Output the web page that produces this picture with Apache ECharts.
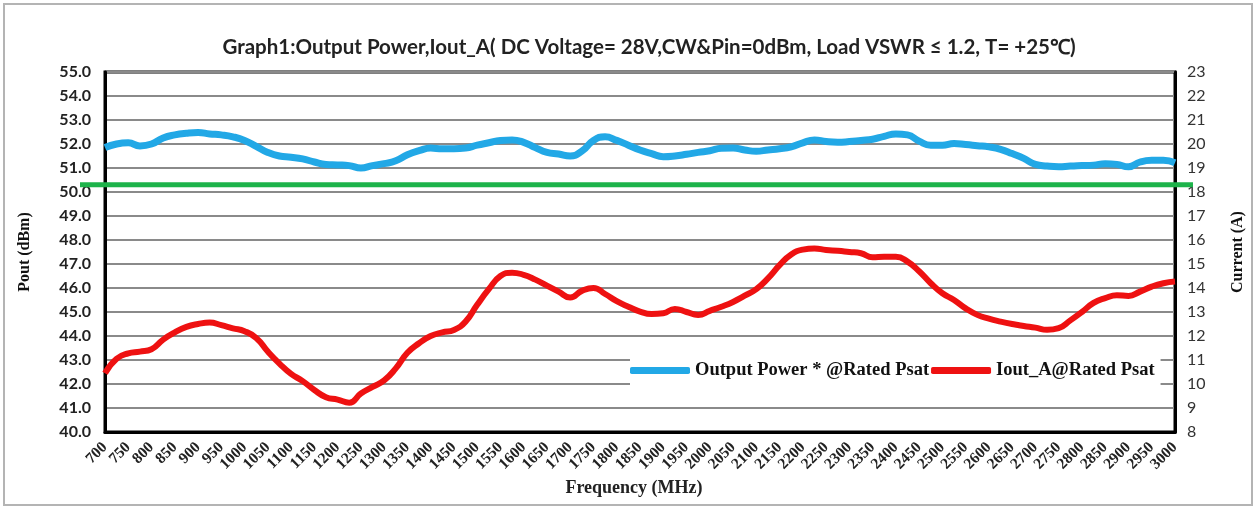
<!DOCTYPE html>
<html>
<head>
<meta charset="utf-8">
<script src="https://cdn.jsdelivr.net/npm/echarts@6/dist/echarts.min.js"></script>
<style>
  body { margin: 0; background: #fff; }
  #chart { position: absolute; left: 0; top: 0; width: 1255px; height: 507px; }
  #frame { position: absolute; left: 3px; top: 3px; width: 1246px; height: 499px; border: 2px solid #b4b4b4; pointer-events: none; }
</style>
</head>
<body>
<div id="chart"></div>
<div id="frame"></div>
<script>
// frequency points (MHz), 25 MHz steps
const freq = []
for (let f = 700; f <= 3000; f += 25) freq.push(f)

// Output Power (dBm), left axis
const pout = [
  51.85, 52.0, 52.05, 51.92, 52.0, 52.25, 52.38, 52.45, 52.48, 52.42,
  52.38, 52.3, 52.15, 51.9, 51.65, 51.5, 51.45, 51.38, 51.25, 51.15,
  51.13, 51.1, 51.0, 51.1, 51.18, 51.3, 51.55, 51.72, 51.83, 51.8,
  51.8, 51.83, 51.95, 52.05, 52.15, 52.17, 52.07, 51.85, 51.65, 51.58,
  51.5, 51.7, 52.15, 52.3, 52.15, 51.95, 51.75, 51.6, 51.47, 51.5,
  51.57, 51.65, 51.72, 51.82, 51.83, 51.75, 51.7, 51.75, 51.8, 51.88,
  52.05, 52.17, 52.1, 52.07, 52.1, 52.15, 52.2, 52.32, 52.42, 52.38,
  52.12, 51.95, 51.95, 52.02, 51.98, 51.93, 51.88, 51.78, 51.6, 51.4,
  51.15, 51.08, 51.05, 51.08, 51.1, 51.12, 51.18, 51.15, 51.05, 51.25,
  51.32, 51.32, 51.22
]

// Iout (A), right axis
const iout = [
  10.45, 11.05, 11.28, 11.35, 11.45, 11.85, 12.15, 12.38, 12.5, 12.56,
  12.45, 12.32, 12.2, 11.92, 11.35, 10.85, 10.42, 10.12, 9.75, 9.45,
  9.35, 9.22, 9.6, 9.88, 10.15, 10.65, 11.3, 11.7, 12.0, 12.15,
  12.25, 12.6, 13.3, 13.95, 14.5, 14.64, 14.55, 14.35, 14.1, 13.85,
  13.6, 13.88, 14.0, 13.75, 13.45, 13.22, 13.02, 12.92, 12.95, 13.13,
  13.0, 12.88, 13.05, 13.22, 13.42, 13.68, 13.95, 14.4, 14.95, 15.4,
  15.6, 15.65, 15.58, 15.55, 15.5, 15.45, 15.28, 15.3, 15.3, 15.1,
  14.7, 14.2, 13.78, 13.5, 13.15, 12.88, 12.72, 12.6, 12.5, 12.42,
  12.35, 12.26, 12.33, 12.65, 13.0, 13.38, 13.58, 13.7, 13.67, 13.85,
  14.06, 14.2, 14.27
]

// green reference level (dBm), drawn a bit wider than the plot box
const limitLevel = 50.3

const chart = echarts.init(document.getElementById('chart'))
const serif = 'Liberation Serif'
const sans = 'Lato'

chart.setOption({
  animation: false,
  backgroundColor: '#fff',
  title: {
    text: 'Graph1:Output Power,Iout_A( DC Voltage= 28V,CW&Pin=0dBm, Load VSWR \u2264 1.2, T= +25\u2103)',
    left: 644,
    textAlign: 'center',
    top: 32,
    textStyle: { fontFamily: sans, fontWeight: 'bold', fontSize: 20.5, color: '#222' }
  },
  grid: [
    { left: 105, right: 80, top: 72, bottom: 75, show: true, borderColor: '#000', borderWidth: 3 },
    // wider box only for the green level line
    { left: 80, right: 62, top: 72, bottom: 75 }
  ],
  legend: {
    data: ['Output Power * @Rated Psat', 'Iout_A@Rated Psat'],
    icon: 'roundRect',
    itemWidth: 60,
    itemHeight: 7,
    itemGap: 2,
    left: 630,
    top: 347,
    padding: [14, 6, 14, 0],
    backgroundColor: '#fff',
    textStyle: { fontFamily: serif, fontWeight: 'bold', fontSize: 18.5, color: '#111' }
  },
  xAxis: [
    {
      type: 'value',
      gridIndex: 0,
      min: 700,
      max: 3000,
      interval: 50,
      name: 'Frequency (MHz)',
      nameLocation: 'middle',
      nameGap: 41,
      nameTextStyle: { fontFamily: serif, fontWeight: 'bold', fontSize: 18, color: '#222', padding: [0, 12, 0, 0] },
      axisLine: { lineStyle: { color: '#000', width: 3 } },
      axisTick: { show: false },
      splitLine: { show: false },
      axisLabel: {
        rotate: 45, margin: 13,
        formatter: v => String(v),
        fontFamily: serif, fontWeight: 'bold', fontSize: 15.5, color: '#222'
      }
    },
    { type: 'value', gridIndex: 1, min: 0, max: 1, show: false }
  ],
  yAxis: [
    {
      type: 'value',
      gridIndex: 0,
      min: 40,
      max: 55,
      interval: 1,
      name: 'Pout (dBm)',
      nameLocation: 'middle',
      nameGap: 72,
      nameTextStyle: { fontFamily: serif, fontWeight: 'bold', fontSize: 16, color: '#111' },
      axisLine: { show: true, lineStyle: { color: '#000', width: 3 } },
      axisTick: { show: false },
      splitLine: { lineStyle: { color: '#8a8a8a', width: 2 } },
      axisLabel: {
        margin: 14,
        formatter: v => v.toFixed(1),
        fontFamily: sans, fontWeight: 'bold', fontSize: 16, color: '#222'
      }
    },
    {
      type: 'value',
      gridIndex: 0,
      min: 8,
      max: 23,
      interval: 1,
      position: 'right',
      name: 'Current (A)',
      nameLocation: 'middle',
      nameGap: 55,
      nameRotate: 90,
      nameTextStyle: { fontFamily: serif, fontWeight: 'bold', fontSize: 16, color: '#111' },
      axisLine: { show: true, lineStyle: { color: '#000', width: 3 } },
      axisTick: { show: false },
      splitLine: { show: false },
      axisLabel: { margin: 12, fontFamily: sans, fontSize: 16, color: '#333' }
    },
    { type: 'value', gridIndex: 1, min: 40, max: 55, show: false }
  ],
  series: [
    {
      name: 'limit',
      type: 'line',
      xAxisIndex: 1,
      yAxisIndex: 2,
      showSymbol: false,
      silent: true,
      lineStyle: { width: 5, color: '#1db34a' },
      data: [[0, limitLevel], [1, limitLevel]]
    },
    {
      name: 'Output Power * @Rated Psat',
      type: 'line',
      xAxisIndex: 0,
      yAxisIndex: 0,
      smooth: true,
      showSymbol: false,
      color: '#22a8e6',
      lineStyle: { width: 7, color: '#22a8e6' },
      data: freq.map((f, i) => [f, pout[i]])
    },
    {
      name: 'Iout_A@Rated Psat',
      type: 'line',
      xAxisIndex: 0,
      yAxisIndex: 1,
      smooth: true,
      showSymbol: false,
      color: '#ee1111',
      lineStyle: { width: 6, color: '#ee1111' },
      data: freq.map((f, i) => [f, iout[i]])
    }
  ]
})
</script>
</body>
</html>
